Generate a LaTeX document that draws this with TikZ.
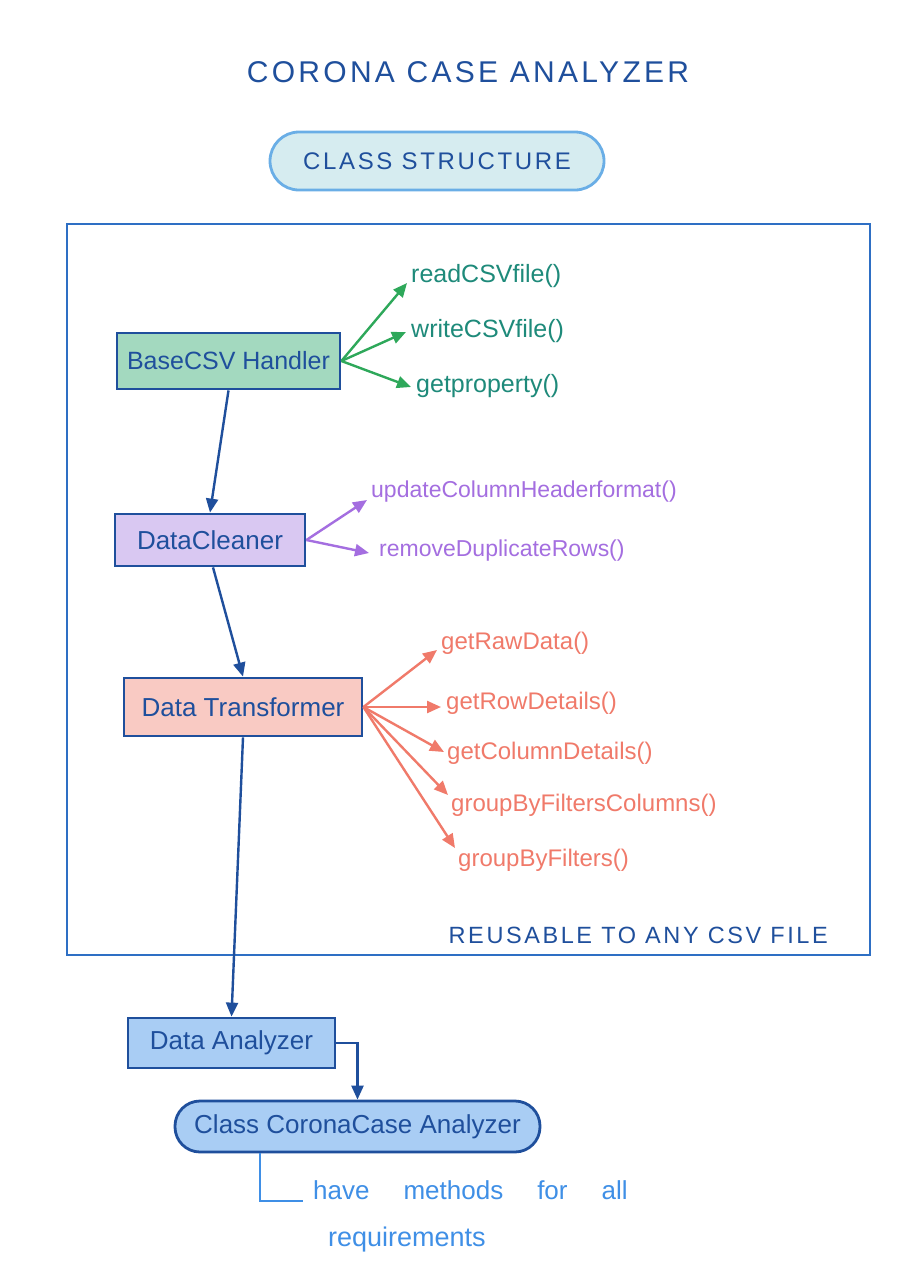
\documentclass[tikz,border=0pt]{standalone}
\usepackage{fontspec}
\setmainfont{Liberation Sans}
\usetikzlibrary{arrows.meta}
\definecolor{dblue}{HTML}{1F4F9C}
\definecolor{fblue}{HTML}{2E6FC4}
\definecolor{lblue}{HTML}{3F8FE6}
\definecolor{gfill}{HTML}{A3D9BF}
\definecolor{garrow}{HTML}{2EA85A}
\definecolor{gtext}{HTML}{1E8A7A}
\definecolor{pfill}{HTML}{D9C8F2}
\definecolor{ptext}{HTML}{A46EE0}
\definecolor{rfill}{HTML}{F9CAC3}
\definecolor{rtext}{HTML}{F07A6A}
\definecolor{bfill}{HTML}{A9CDF4}
\definecolor{cfill}{HTML}{D6ECF0}
\definecolor{cborder}{HTML}{6AAEE6}
\begin{document}
\begin{tikzpicture}[x=1pt,y=-1pt,
  cls/.style={draw=dblue, line width=2.8pt, inner sep=0pt, text=dblue,
    font=\fontsize{26}{30}\selectfont},
  meth/.style={anchor=west, inner sep=0pt, font=\fontsize{#1}{#1}\selectfont},
  arr/.style={-{Triangle[length=14pt,width=12pt]}, line width=2.4pt},
  caps/.style={inner sep=0pt, text=dblue, font=\fontsize{#1}{#1}\selectfont\addfontfeature{LetterSpace=11}}
]
\useasboundingbox[fill=white] (0,0) rectangle (909,1280);

% title
\node[caps=30] (title) at (468,72) {CORONA CASE ANALYZER};
\node[draw=cborder, fill=cfill, line width=2.8pt, rounded corners=29pt,
      minimum width=334pt, minimum height=58pt, inner sep=0pt] (cs) at (437,161) {};
\node[caps=24] (cstext) at (cs) {CLASS STRUCTURE};

% frame
\node[draw=fblue, line width=2.8pt, minimum width=803pt, minimum height=731pt, inner sep=0pt] (frame) at (468.5,589.5) {};
\node[caps=23.5, anchor=east] (reuse) at (828,935) {REUSABLE TO ANY CSV FILE};

% classes
\node[cls, fill=gfill, minimum width=223pt, minimum height=56pt, font=\fontsize{25}{30}\selectfont] (base) at (228.5,361) {BaseCSV Handler};
\node[cls, fill=pfill, minimum width=190pt, minimum height=52pt] (clean) at (210,540) {DataCleaner};
\node[cls, fill=rfill, minimum width=238pt, minimum height=58pt] (trans) at (243,707) {Data Transformer};
\node[cls, fill=bfill, minimum width=207pt, minimum height=50pt] (anal) at (231.5,1043) {Data Analyzer};
\node[cls, fill=bfill, rounded corners=25pt, minimum width=365pt, minimum height=51pt] (corona) at (357.5,1126.5) {Class CoronaCase Analyzer};

% methods: BaseCSV Handler
\node[meth=25, text=gtext] (b1) at (411,276) {readCSVfile()};
\node[meth=25, text=gtext] (b2) at (411,331) {writeCSVfile()};
\node[meth=25, text=gtext] (b3) at (416,386) {getproperty()};
\draw[arr, garrow] (base.east) -- ([xshift=-4pt,yshift=-7pt]b1.west);
\draw[arr, garrow] (base.east) -- ([xshift=-5pt,yshift=-1pt]b2.west);
\draw[arr, garrow] (base.east) -- ([xshift=-5pt,yshift=-1pt]b3.west);

% methods: DataCleaner
\node[meth=23, text=ptext] (c1) at (371,492) {updateColumnHeaderformat()};
\node[meth=23, text=ptext] (c2) at (379,551) {removeDuplicateRows()};
\draw[arr, ptext] (clean.east) -- ([xshift=-4pt,yshift=-8pt]c1.west);
\draw[arr, ptext] (clean.east) -- ([xshift=-10pt,yshift=-2pt]c2.west);

% methods: Data Transformer
\node[meth=24, text=rtext] (t1) at (441,643) {getRawData()};
\node[meth=24, text=rtext] (t2) at (446,703) {getRowDetails()};
\node[meth=24, text=rtext] (t3) at (447,753) {getColumnDetails()};
\node[meth=24, text=rtext] (t4) at (451,805) {groupByFiltersColumns()};
\node[meth=24, text=rtext] (t5) at (458,860) {groupByFilters()};
\draw[arr, rtext] (trans.east) -- ([xshift=-4pt,yshift=-7pt]t1.west);
\draw[arr, rtext] (trans.east) -- ([xshift=-5pt,yshift=-4pt]t2.west);
\draw[arr, rtext] (trans.east) -- ([xshift=-3pt,yshift=1pt]t3.west);
\draw[arr, rtext] (trans.east) -- ([xshift=-3pt,yshift=10pt]t4.west);
\draw[arr, rtext] (trans.east) -- ([xshift=-3pt,yshift=12pt]t5.west);

% flow
\draw[arr, dblue] (base.south) -- (clean.north);
\draw[arr, dblue] ([xshift=3pt]clean.south) -- (trans.north);
\draw[arr, dblue] (trans.south) -- (anal.north);
\draw[arr, dblue] (anal.east) -| (corona.north);

% note
\coordinate (k1) at (260,1201);
\node[inner sep=0pt, text=lblue, font=\fontsize{26}{28}\selectfont, anchor=west] (note1) at (313,1190) {have\hspace{34pt}methods\hspace{34pt}for\hspace{34pt}all};
\node[inner sep=0pt, text=lblue, font=\fontsize{27}{28}\selectfont, anchor=west] (note2) at (328,1240) {requirements};
\draw[lblue, line width=2.6pt] (corona.south -| k1) -- (k1) -- ([xshift=-10pt]k1 -| note1.west);
\end{tikzpicture}
\end{document}
